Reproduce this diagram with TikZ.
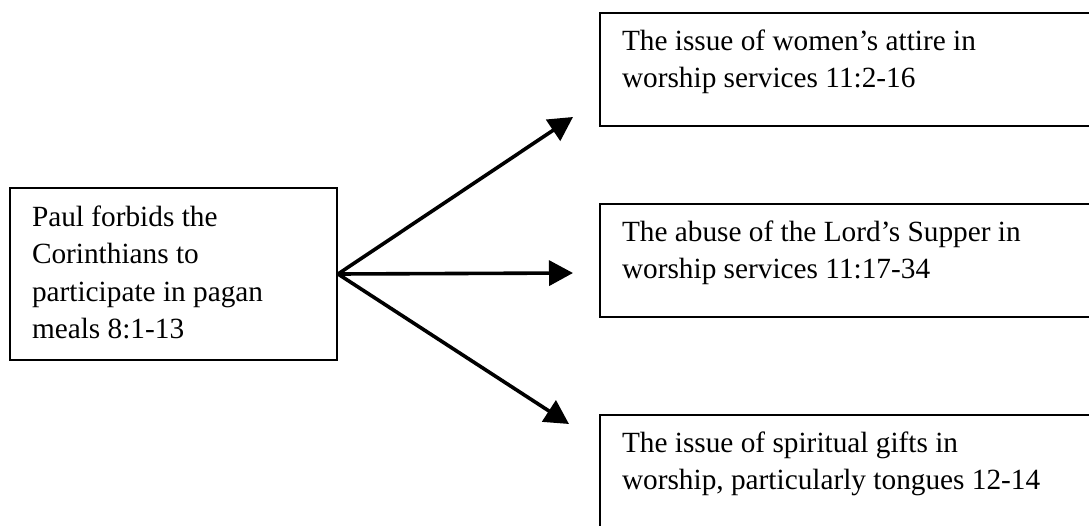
\documentclass[tikz,border=0pt]{standalone}
\usepackage{fontspec}
\setmainfont{Liberation Serif}
\usetikzlibrary{arrows.meta}

% fixed-height text block: first baseline sits #1 below the top edge
\newcommand\framedtext[3]{%
  \begin{minipage}[t][#2][t]{#3}\raggedright\rule{0pt}{#1}\ignorespaces}
\newcommand\framedend{\end{minipage}}

\tikzset{
  textbox/.style={draw=black, line width=2pt, inner xsep=22pt, inner ysep=0pt,
    anchor=north west, font=\fontsize{29.3pt}{37.5pt}\selectfont},
  arrowline/.style={line width=3.6pt, -{Triangle[length=24pt,width=25pt]}}
}

\begin{document}
\begin{tikzpicture}[x=1pt,y=1pt]
  \useasboundingbox (0,0) rectangle (1089,-525);
  \clip (0,0) rectangle (1089,-525);

  % source box on the left
  \node[textbox] (src) at (9,-187)
    {\framedtext{38pt}{172pt}{283pt}Paul forbids the\\Corinthians to\\participate in pagan\\meals 8:1-13\framedend};

  % three topic boxes on the right (they run past the page edge)
  \node[textbox] (attire) at (599,-12)
    {\framedtext{37pt}{113pt}{470pt}The issue of women’s attire in\\worship services 11:2-16\framedend};
  \node[textbox] (supper) at (599,-203)
    {\framedtext{37pt}{113pt}{470pt}The abuse of the Lord’s Supper in\\worship services 11:17-34\framedend};
  \node[textbox] (gifts) at (599,-414)
    {\framedtext{37pt}{125pt}{470pt}The issue of spiritual gifts in\\worship, particularly tongues 12-14\framedend};

  % arrow tips stop short of the topic boxes
  \coordinate (tipA) at (573,-117);
  \coordinate (tipB) at (573,-273);
  \coordinate (tipC) at (569,-424);

  \draw[arrowline] (src.east) -- (tipA);
  \draw[arrowline] (src.east) -- (tipB);
  \draw[arrowline] (src.east) -- (tipC);
\end{tikzpicture}
\end{document}
